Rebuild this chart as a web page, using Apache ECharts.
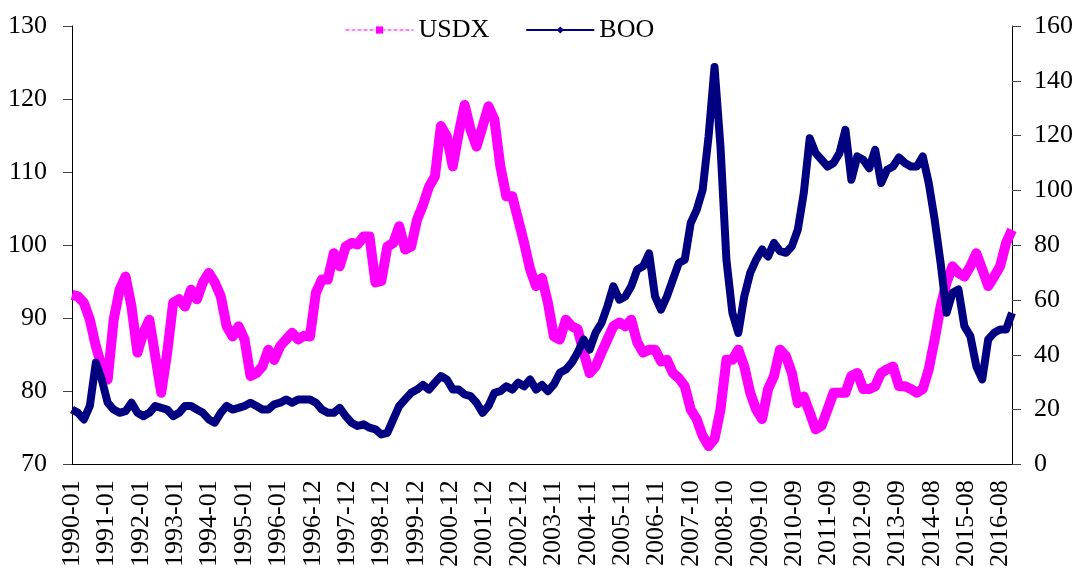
<!DOCTYPE html>
<html>
<head>
<meta charset="utf-8">
<script src="https://cdn.jsdelivr.net/npm/echarts@6/dist/echarts.min.js"></script>
<style>
  html, body { margin: 0; padding: 0; background: #fff; }
  #chart { width: 1078px; height: 570px; }
</style>
</head>
<body>
<div id="chart"></div>
<script>
// category labels on the time axis (one every ~261 trading days)
const tickLabels = [
  "1990-01", "1991-01", "1992-01", "1993-01", "1994-01", "1995-01", "1996-01",
  "1996-12", "1997-12", "1998-12", "1999-12", "2000-12", "2001-12", "2002-12",
  "2003-11", "2004-11", "2005-11", "2006-11", "2007-10", "2008-10", "2009-10",
  "2010-09", "2011-09", "2012-09", "2013-09", "2014-08", "2015-08", "2016-08"
];
// samples between two neighbouring labels
const labelStep = 5.78;

const usdx = [
  93.2, 93.0, 92.1, 89.8, 86.2, 83.4, 81.6, 89.8, 93.9, 95.7,
  91.6, 85.3, 88.0, 89.8, 84.8, 79.8, 85.3, 92.1, 92.6, 91.6,
  93.9, 92.6, 94.9, 96.2, 94.9, 93.0, 88.9, 87.5, 88.9, 87.1,
  82.1, 82.5, 83.4, 85.7, 84.3, 86.2, 87.1, 88.0, 87.1, 87.6,
  87.5, 93.5, 95.3, 95.3, 98.9, 97.1, 99.8, 100.3, 100.1, 101.2,
  101.2, 94.9, 95.1, 99.8, 100.3, 102.6, 99.4, 99.8, 103.5, 105.5,
  108.0, 109.4, 116.3, 114.9, 110.8, 115.3, 119.2, 115.8, 113.5, 116.2,
  119.0, 117.2, 110.8, 106.7, 106.7, 103.5, 100.3, 96.7, 94.4, 95.5,
  92.1, 87.5, 87.1, 89.8, 88.9, 88.5, 85.3, 82.5, 83.4, 85.3,
  87.1, 88.9, 89.4, 88.9, 89.8, 86.7, 85.3, 85.7, 85.7, 84.1,
  84.3, 82.5, 81.8, 80.7, 77.5, 76.2, 73.9, 72.5, 73.5, 77.5,
  84.3, 84.3, 85.7, 83.4, 79.8, 77.5, 76.2, 80.3, 82.1, 85.7,
  84.8, 82.5, 78.4, 79.3, 77.1, 74.8, 75.3, 77.5, 79.8, 79.8,
  79.8, 82.1, 82.5, 80.3, 80.3, 80.7, 82.5, 83.0, 83.4, 80.7,
  80.7, 80.3, 79.8, 80.3, 83.0, 87.1, 91.6, 94.9, 97.1, 96.2,
  95.7, 97.1, 98.9, 96.7, 94.4, 95.7, 97.1, 100.3, 102.1
];

const boo = [
  20.0, 18.8, 16.4, 21.3, 37.1, 31.0, 22.5, 20.0, 18.8, 19.4,
  22.5, 18.8, 17.6, 18.8, 21.3, 20.6, 20.0, 17.6, 18.8, 21.3,
  21.3, 20.0, 18.8, 16.4, 15.2, 18.8, 21.3, 20.0, 20.6, 21.3,
  22.5, 21.3, 20.0, 20.0, 21.9, 22.5, 23.7, 22.5, 23.7, 23.7,
  23.7, 22.5, 20.0, 18.8, 18.8, 20.6, 17.6, 15.2, 14.0, 14.6,
  13.4, 12.8, 10.9, 11.5, 16.4, 21.3, 23.7, 26.1, 27.3, 29.0,
  27.3, 29.8, 32.2, 31.0, 27.3, 27.3, 25.5, 24.9, 22.5, 18.8,
  21.3, 26.1, 26.7, 28.5, 27.3, 29.8, 28.5, 31.0, 27.3, 29.0,
  26.7, 29.2, 33.4, 34.6, 37.1, 40.8, 45.6, 41.9, 48.0, 51.6,
  57.7, 65.0, 60.1, 61.3, 65.0, 71.1, 72.3, 77.0, 61.3, 56.5,
  61.3, 67.4, 73.5, 74.7, 88.1, 92.9, 100.2, 119.7, 145.0, 116.0,
  74.7, 55.3, 48.0, 61.3, 69.9, 74.7, 78.4, 75.9, 80.8, 77.8,
  77.2, 79.6, 85.7, 99.0, 119.0, 113.6, 111.2, 108.7, 110.0, 113.6,
  122.1, 103.9, 112.4, 111.2, 108.1, 114.8, 102.7, 107.5, 108.7, 112.0,
  110.0, 108.7, 108.7, 112.4, 102.7, 89.3, 73.5, 55.3, 62.6, 63.8,
  50.4, 46.8, 35.8, 31.0, 45.6, 48.0, 49.2, 49.2, 55.3
];

const usdxData = usdx.map((v, i) => [i, v]);
const booData = boo.map((v, i) => [i, v]);

const font = "Liberation Serif";
const chart = echarts.init(document.getElementById("chart"));

const option = {
  animation: false,
  backgroundColor: "#fff",
  textStyle: { fontFamily: font },
  legend: {
    left: 340,
    top: 12,
    itemWidth: 68,
    itemHeight: 9,
    itemGap: 36,
    textStyle: { fontFamily: font, fontSize: 26, color: "#000" },
    data: [
      { name: "USDX", lineStyle: { type: "dashed", width: 1 } },
      { name: "BOO", lineStyle: { type: "solid", width: 2 } }
    ]
  },
  grid: { left: 72, right: 66, top: 26, bottom: 105 },
  xAxis: {
    type: "value",
    min: 0,
    max: usdx.length - 1,
    interval: labelStep,
    axisLine: { onZero: false, lineStyle: { color: "#000", width: 1 } },
    axisTick: { show: false },
    axisLabel: {
      rotate: 90,
      margin: 16,
      showMaxLabel: false,
      fontFamily: font,
      fontSize: 26,
      color: "#000",
      formatter: function (v) {
        const k = Math.round(v / labelStep);
        return Math.abs(v - k * labelStep) < 0.05 ? (tickLabels[k] || "") : "";
      }
    },
    splitLine: { show: false }
  },
  yAxis: [
    {
      type: "value",
      min: 70,
      max: 130,
      interval: 10,
      axisLine: { show: true, lineStyle: { color: "#000" } },
      axisTick: { show: true, length: 9, lineStyle: { color: "#444" } },
      axisLabel: { margin: 25, fontFamily: font, fontSize: 26, color: "#000" },
      splitLine: { show: false }
    },
    {
      type: "value",
      min: 0,
      max: 160,
      interval: 20,
      position: "right",
      axisLine: { show: true, lineStyle: { color: "#000" } },
      axisTick: { show: true, length: 9, lineStyle: { color: "#444" } },
      axisLabel: { margin: 22, fontFamily: font, fontSize: 26, color: "#000" },
      splitLine: { show: false }
    }
  ],
  series: [
    {
      name: "USDX",
      type: "line",
      yAxisIndex: 0,
      data: usdxData,
      symbol: "rect",
      showSymbol: false,
      color: "#FF00FF",
      lineStyle: { width: 10, color: "#FF00FF", join: "round" },
      z: 2
    },
    {
      name: "BOO",
      type: "line",
      yAxisIndex: 1,
      data: booData,
      symbol: "diamond",
      showSymbol: false,
      color: "#000080",
      lineStyle: { width: 8, color: "#000080", join: "round" },
      z: 3
    }
  ]
};

chart.setOption(option);
</script>
</body>
</html>
